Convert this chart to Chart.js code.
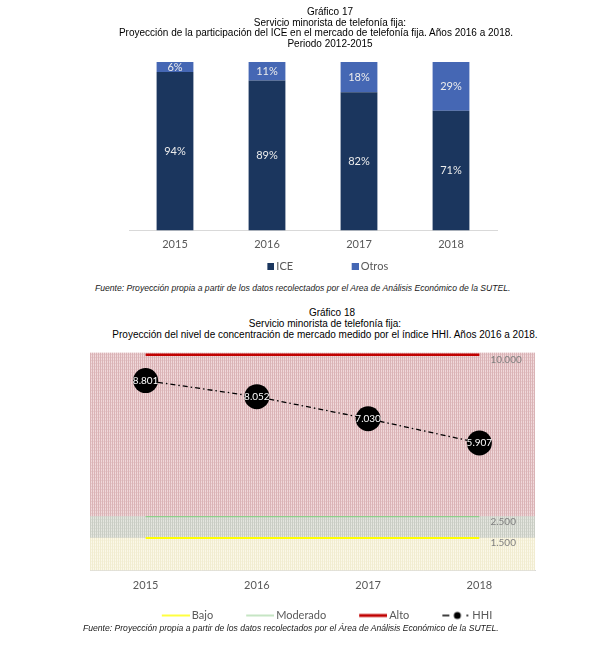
<!DOCTYPE html>
<html lang="es">
<head>
<meta charset="utf-8">
<script src="https://cdn.jsdelivr.net/npm/chart.js@4.4.1/dist/chart.umd.min.js"></script>
<style>
  html, body { margin: 0; padding: 0; background: #fff; }
  body { width: 604px; height: 653px; position: relative; overflow: hidden; font-family: "Liberation Sans", Arial, sans-serif; }
  .title { position: absolute; left: 0; text-align: center; font-size: 10px; color: #000; z-index: 2; }
  .title span { display: block; position: relative; white-space: nowrap; }
  .src { position: absolute; font-size: 8.6px; font-style: italic; color: #1a1a1a; white-space: nowrap; z-index: 2; }
  canvas { position: absolute; left: 0; z-index: 1; }
</style>
</head>
<body>
<div class="title" style="top:7px; width:660px; line-height:10.6px;">
  <span>Gráfico 17</span>
  <span>Servicio minorista de telefonía fija:</span>
  <span style="left:-14px;">Proyección de la participación del ICE en el mercado de telefonía fija. Años 2016 a 2018.</span>
  <span>Periodo 2012-2015</span>
</div>
<canvas id="c1" width="604" height="282" style="top:0px;"></canvas>
<div class="src" style="top:283px; left:95px;">Fuente: Proyección propia a partir de los datos recolectados por el Area de Análisis Económico de la SUTEL.</div>

<div class="title" style="top:307px; width:650px; line-height:11px;">
  <span style="left:7px;">Gráfico 18</span>
  <span>Servicio minorista de telefonía fija:</span>
  <span>Proyección del nivel de concentración de mercado medido por el índice HHI. Años 2016 a 2018.</span>
</div>
<canvas id="c2" width="604" height="291" style="top:340px;"></canvas>
<div class="src" style="top:623px; left:83px;">Fuente: Proyección propia a partir de los datos recolectados por el Área de Análisis Económico de la SUTEL.</div>

<script>
// grafico 17: participacion (%)
const years = ['2015', '2016', '2017', '2018'];
const iceShare = [94, 89, 82, 71];
const otrosShare = [6, 11, 18, 29];

// grafico 18: HHI y umbrales
const hhiYears = ['2015', '2016', '2017', '2018'];
const hhiValues = [8801, 8052, 7030, 5907];
const limBajo = [1500, 1500, 1500, 1500];
const limModerado = [2500, 2500, 2500, 2500];
const limAlto = [10000, 10000, 10000, 10000];
const hhiMax = 10100;

Chart.defaults.font.family = 'Lato';

// 1.500 / 10.000
const fmt = v => String(v).replace(/\B(?=(\d{3})+(?!\d))/g, '.');

// legend symbols: the image is 7px wider than the legend box, so the mark
// sits at its right end, close to the text; the empty left part spaces the items
function squareSample(color, box) {
  const c = document.createElement('canvas');
  c.width = box + 7; c.height = 7;
  const g = c.getContext('2d');
  g.fillStyle = color;
  g.fillRect(c.width - 7, 0, 7, 7);
  return c;
}
function lineSample(color, width, box, hhi) {
  const c = document.createElement('canvas');
  c.width = box + 7; c.height = 12;
  const g = c.getContext('2d');
  const x0 = c.width - 28;
  g.strokeStyle = color; g.fillStyle = color; g.lineWidth = width;
  g.beginPath();
  if (hhi) {
    g.moveTo(x0, 6); g.lineTo(x0 + 7, 6); g.stroke();
    g.beginPath(); g.arc(x0 + 15, 6, 3.5, 0, Math.PI * 2); g.fill();
    g.fillRect(x0 + 24, 5.3, 2, 1.4);
  } else {
    g.moveTo(x0, 6); g.lineTo(x0 + 28, 6); g.stroke();
  }
  return c;
}
function hatch(base, stripe, row) {
  const c = document.createElement('canvas');
  c.width = 2; c.height = 3;
  const g = c.getContext('2d');
  g.fillStyle = base; g.fillRect(0, 0, 2, 3);
  g.fillStyle = stripe; g.fillRect(0, 0, 1, 3);
  g.fillStyle = row; g.fillRect(1, 2, 1, 1);
  return g.createPattern(c, 'repeat');
}

const barLabels = {
  id: 'barLabels',
  afterDatasetsDraw(chart) {
    const ctx = chart.ctx;
    ctx.save();
    ctx.font = '11px Lato';
    ctx.fillStyle = '#ececec';
    ctx.textAlign = 'center';
    ctx.textBaseline = 'middle';
    chart.data.datasets.forEach((ds, i) => {
      chart.getDatasetMeta(i).data.forEach((el, j) => {
        ctx.fillText(ds.data[j] + '%', el.x, (el.y + el.base) / 2);
      });
    });
    ctx.restore();
  }
};

const box1 = 52;
new Chart(document.getElementById('c1'), {
  type: 'bar',
  data: {
    labels: years,
    datasets: [
      { label: 'ICE', data: iceShare, backgroundColor: '#1b365e', borderWidth: 0 },
      { label: 'Otros', data: otrosShare, backgroundColor: '#4567b4', borderWidth: 0 }
    ]
  },
  options: {
    responsive: false,
    animation: false,
    events: [],
    layout: { padding: { left: 110, right: 107, top: 62, bottom: 0 } },
    datasets: { bar: { categoryPercentage: 1, barPercentage: 0.4 } },
    scales: {
      x: {
        stacked: true,
        grid: { display: false, drawTicks: false },
        border: { color: '#d9d9d9' },
        ticks: { padding: 7.4, color: '#595959', font: { size: 11 } },
        afterFit: a => { a.height = 20.5; }
      },
      y: {
        stacked: true, min: 0, max: 100,
        grid: { display: false, drawTicks: false },
        border: { display: false },
        ticks: { display: false },
        afterFit: a => { a.width = 19; }
      }
    },
    plugins: {
      tooltip: { enabled: false },
      legend: {
        position: 'bottom',
        labels: {
          usePointStyle: true,
          pointStyleWidth: box1,
          padding: 10,
          color: '#595959',
          font: { size: 11 },
          generateLabels: chart => chart.data.datasets.map((ds, i) => ({
            text: ds.label,
            pointStyle: squareSample(ds.backgroundColor, box1),
            fillStyle: ds.backgroundColor,
            strokeStyle: 'transparent',
            lineWidth: 0,
            fontColor: '#595959',
            hidden: false,
            datasetIndex: i
          }))
        }
      }
    }
  },
  plugins: [barLabels]
});

// grafico 18
const pink = hatch('#f0d8da', '#dab3b6', '#e6c8ca');
const grey = hatch('#e4e6df', '#c9cdc4', '#d8dbd3');
const cream = hatch('#fbf8e8', '#f1ecd0', '#f6f2de');

const bandBajo = limBajo.map(v => [0, v]);
const bandModerado = limBajo.map((v, i) => [v, limModerado[i]]);
const bandAlto = limModerado.map(v => [v, hhiMax]);

const box2 = 42;
const legendSymbols = {
  'Bajo': lineSample('#ffff00', 1.5, box2),
  'Moderado': lineSample('#9fd39c', 1.2, box2),
  'Alto': lineSample('#c00000', 3, box2),
  'HHI': lineSample('#000000', 1.5, box2, true)
};

const hhiLabels = {
  id: 'hhiLabels',
  afterDatasetsDraw(chart) {
    const ctx = chart.ctx;
    ctx.save();
    ctx.textBaseline = 'middle';
    chart.data.datasets.forEach((ds, i) => {
      const pts = chart.getDatasetMeta(i).data;
      if (ds.label === 'HHI') {
        ctx.font = '10px Lato';
        ctx.fillStyle = '#ffffff';
        ctx.textAlign = 'center';
        pts.forEach((el, j) => ctx.fillText(fmt(ds.data[j]), el.x, el.y));
      } else if (ds.type === 'line') {
        const last = pts[pts.length - 1];
        ctx.font = '10px Lato';
        ctx.fillStyle = '#7f7f7f';
        ctx.textAlign = 'left';
        ctx.fillText(fmt(ds.data[ds.data.length - 1]), last.x + 11, last.y + 5);
      }
    });
    ctx.restore();
  }
};

new Chart(document.getElementById('c2'), {
  type: 'bar',
  data: {
    labels: hhiYears,
    datasets: [
      { type: 'line', label: 'HHI', data: hhiValues, borderColor: '#000', borderWidth: 1.3,
        borderDash: [5, 3, 1.5, 3], pointRadius: 12.5, pointBackgroundColor: '#000',
        pointBorderWidth: 0, order: 0 },
      { type: 'line', label: 'Bajo', data: limBajo, borderColor: '#ffff00', borderWidth: 2, pointRadius: 0, order: 1 },
      { type: 'line', label: 'Moderado', data: limModerado, borderColor: '#8fcf8b', borderWidth: 1.2, pointRadius: 0, order: 1 },
      { type: 'line', label: 'Alto', data: limAlto, borderColor: '#c00000', borderWidth: 2.5, pointRadius: 0, order: 1 },
      { type: 'bar', label: 'zona baja', data: bandBajo, backgroundColor: cream, grouped: false, order: 5 },
      { type: 'bar', label: 'zona moderada', data: bandModerado, backgroundColor: grey, grouped: false, order: 5 },
      { type: 'bar', label: 'zona alta', data: bandAlto, backgroundColor: pink, grouped: false, order: 5 }
    ]
  },
  options: {
    responsive: false,
    animation: false,
    events: [],
    layout: { padding: { left: 90, right: 57.5, top: 8, bottom: 0 } },
    datasets: { bar: { categoryPercentage: 1, barPercentage: 1, borderWidth: 0 } },
    scales: {
      x: {
        grid: { display: false, drawTicks: false },
        border: { color: '#d9d9d9' },
        ticks: { padding: 8.4, color: '#595959', font: { size: 11 } },
        afterFit: a => { a.height = 24; }
      },
      y: {
        position: 'right',
        min: 0, max: hhiMax,
        grid: { display: false, drawTicks: false },
        border: { display: false },
        ticks: { display: false },
        afterFit: a => { a.width = 11.5; }
      }
    },
    plugins: {
      tooltip: { enabled: false },
      legend: {
        position: 'bottom',
        labels: {
          usePointStyle: true,
          pointStyleWidth: box2,
          padding: 15.5,
          color: '#595959',
          font: { size: 11 },
          generateLabels: chart => ['Bajo', 'Moderado', 'Alto', 'HHI'].map(name => ({
            text: name,
            pointStyle: legendSymbols[name],
            fillStyle: 'transparent',
            strokeStyle: 'transparent',
            lineWidth: 0,
            fontColor: '#595959',
            hidden: false,
            datasetIndex: chart.data.datasets.findIndex(d => d.label === name)
          }))
        }
      }
    }
  },
  plugins: [hhiLabels]
});
</script>
</body>
</html>
